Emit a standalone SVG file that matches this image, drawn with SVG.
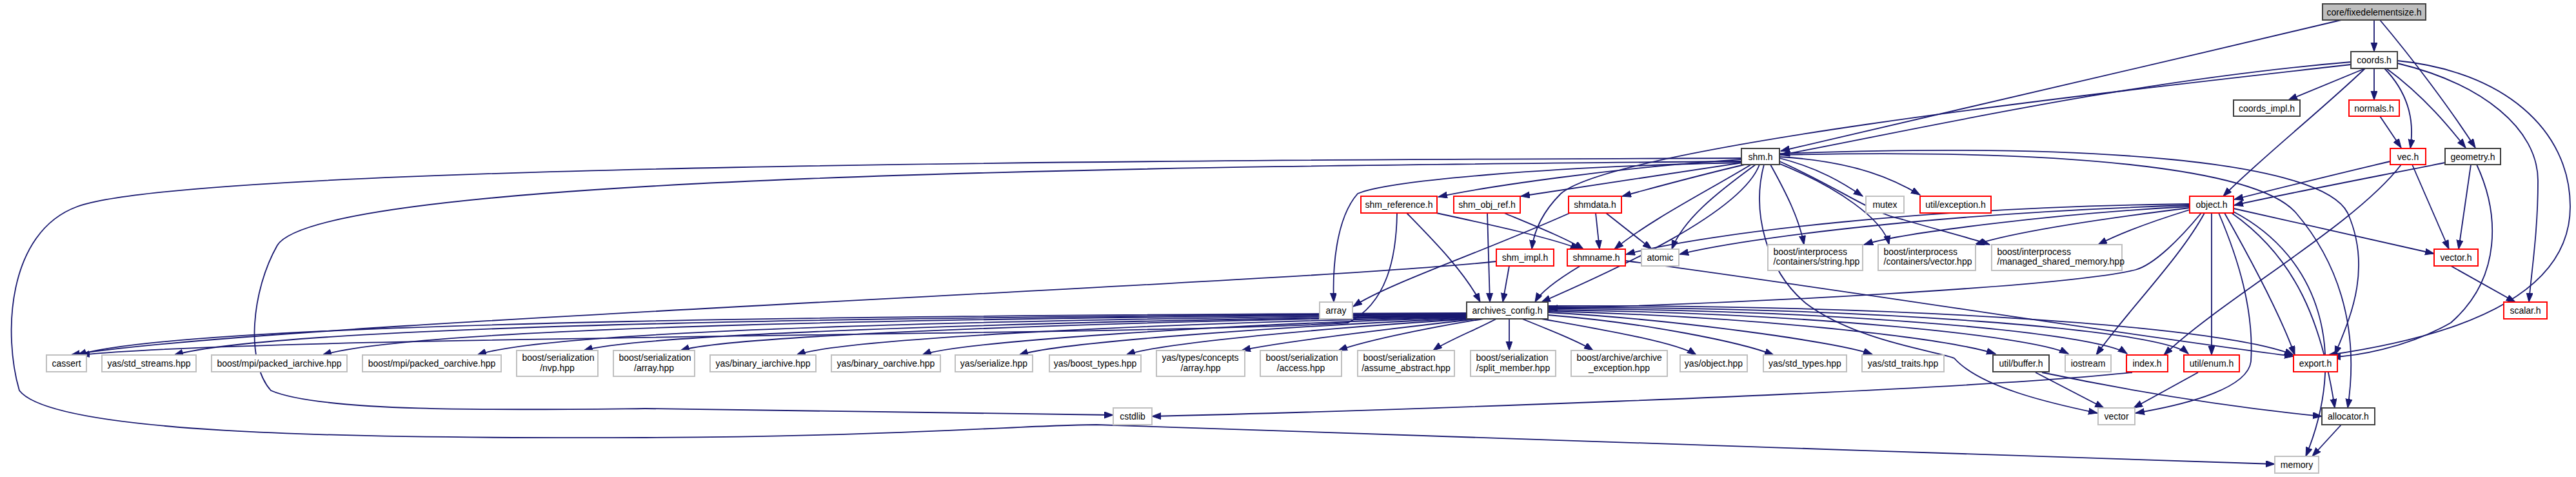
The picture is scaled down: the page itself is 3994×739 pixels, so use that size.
<svg xmlns="http://www.w3.org/2000/svg" width="3994" height="739" viewBox="0 0 3994 739">
<style>
.n rect{fill:#fff;stroke-width:2}
.b rect{stroke:#404040}
.r rect{stroke:#ff0000}
.g rect{stroke:#bfbfbf}
.root rect{fill:#bfbfbf;stroke:#404040}
text{font-family:"Liberation Sans",Arial,sans-serif;font-size:14px;fill:#000}
.c{text-anchor:middle}
#edges path{fill:none;stroke:#191970;stroke-width:1.8;marker-end:url(#a)}
</style>
<defs>
<marker id="a" markerUnits="userSpaceOnUse" markerWidth="16" markerHeight="12" refX="14" refY="5" orient="auto"><path d="M0,0 L14,5 L0,10 z" fill="#191970" stroke="#191970"/></marker>
</defs>
<rect width="3994" height="739" fill="#fff"/>
<g id="edges">
<path d="M3681,31 L3681,80"/>
<path d="M3630,31 C3300,110 2900,200 2761,234"/>
<path d="M3690,31 C3740,90 3800,170 3838,229"/>
<path d="M3645,96 C3300,125 2950,205 2761,240"/>
<path d="M3645,100 C3200,150 2500,230 2420,300 C2390,330 2378,360 2375,386"/>
<path d="M3667,106 L3548,155"/>
<path d="M3681,106 L3681,155"/>
<path d="M3697,106 C3730,140 3745,180 3737,230"/>
<path d="M3700,106 C3760,150 3800,200 3823,229"/>
<path d="M3667,106 C3600,170 3500,250 3447,304"/>
<path d="M3717,98 C3850,130 3935,200 3935,280 C3935,360 3925,420 3921,468"/>
<path d="M3717,94 C3880,110 3985,200 3985,320 C3985,480 3750,530 3610,550"/>
<path d="M3690,180 L3723,229"/>
<path d="M3706,250 C3600,275 3500,300 3464,309"/>
<path d="M3740,255 L3797,386"/>
<path d="M3723,255 C3650,350 3450,460 3355,550"/>
<path d="M3791,252 C3650,280 3520,305 3464,318"/>
<path d="M3831,255 L3812,386"/>
<path d="M3840,255 C3875,330 3880,430 3800,500 C3730,540 3650,552 3615,553"/>
<path d="M3800,412 L3900,468"/>
<path d="M2700,245 C1800,248 300,255 120,320 C10,360 5,520 30,605 C80,670 500,680 1000,678 C1400,676 1600,658 1700,658 C2000,665 2900,700 3527,719"/>
<path d="M2700,250 C1800,258 500,270 430,380 C390,450 380,560 420,605 C500,640 800,635 1000,633 C1300,637 1600,642 1726,643"/>
<path d="M2700,252 C2400,258 2150,280 2105,300 C2070,340 2066,420 2068,468"/>
<path d="M2700,247 C2500,260 2300,290 2230,305"/>
<path d="M2702,252 C2550,275 2420,295 2358,304"/>
<path d="M2705,255 C2620,275 2560,292 2515,304"/>
<path d="M2715,255 C2640,300 2560,340 2503,386"/>
<path d="M2722,255 C2660,300 2610,340 2592,386"/>
<path d="M2728,255 C2700,330 2500,420 2390,468"/>
<path d="M2745,255 C2770,300 2790,340 2797,379"/>
<path d="M2755,252 C2850,290 2920,340 2929,379"/>
<path d="M2759,250 C2850,290 2900,330 2950,340 C3000,355 3060,370 3085,379"/>
<path d="M2759,245 C2820,260 2860,285 2888,304"/>
<path d="M2759,243 C2880,250 2940,280 2977,302"/>
<path d="M2735,255 C2715,330 2740,420 2800,470 C2880,530 3010,545 3030,555 C3070,600 3180,625 3252,640"/>
<path d="M2759,240 C3200,230 3500,260 3560,330 C3620,400 3660,500 3640,632"/>
<path d="M2759,238 C3250,220 3600,250 3640,330 C3680,420 3640,500 3620,550"/>
<path d="M2166,330 C2165,400 2150,470 2090,500 C1800,520 400,520 125,550"/>
<path d="M2181,330 C2220,370 2270,420 2295,468"/>
<path d="M2227,330 C2320,350 2410,370 2449,386"/>
<path d="M2306,330 L2310,468"/>
<path d="M2332,330 C2380,350 2430,370 2455,386"/>
<path d="M2474,330 L2480,386"/>
<path d="M2490,330 L2561,386"/>
<path d="M2434,330 C2300,390 2150,440 2098,475"/>
<path d="M2340,412 L2330,468"/>
<path d="M2320,405 C2000,440 400,500 110,550"/>
<path d="M2450,412 C2420,430 2390,450 2380,468"/>
<path d="M2520,404 C2800,440 3300,520 3556,552"/>
<path d="M3395,316 C3000,320 2650,360 2521,394"/>
<path d="M3395,318 C3000,330 2700,370 2604,394"/>
<path d="M3395,320 C3200,330 2950,360 2890,379"/>
<path d="M3395,322 C3250,340 3120,360 3062,379"/>
<path d="M3395,325 C3330,345 3280,365 3253,379"/>
<path d="M3413,330 C3380,370 3340,410 3311,418 C3200,445 2700,470 2401,478"/>
<path d="M3418,330 C3380,400 3300,480 3250,550"/>
<path d="M3429,330 L3429,550"/>
<path d="M3449,330 C3500,420 3540,500 3558,550"/>
<path d="M3463,323 L3774,393"/>
<path d="M3440,330 C3470,400 3495,480 3490,560 C3485,600 3400,625 3311,640"/>
<path d="M3460,330 C3560,400 3600,500 3620,632"/>
<path d="M3463,328 C3600,400 3640,550 3575,707"/>
<path d="M2274,485 C1500,488 300,495 120,550"/>
<path d="M2274,486 C1500,490 450,500 270,550"/>
<path d="M2274,487 C1500,492 650,505 500,550"/>
<path d="M2275,488 C1600,494 850,510 740,550"/>
<path d="M2276,489 C1700,496 1000,515 905,543"/>
<path d="M2277,490 C1700,498 1130,520 1055,543"/>
<path d="M2278,491 C1800,500 1300,525 1235,550"/>
<path d="M2279,492 C1900,502 1480,530 1430,550"/>
<path d="M2280,493 C2000,505 1640,530 1580,550"/>
<path d="M2282,494 C2100,505 1800,530 1746,550"/>
<path d="M2290,494 C2150,510 1980,530 1925,543"/>
<path d="M2300,494 C2200,510 2110,530 2075,543"/>
<path d="M2320,494 C2290,510 2240,530 2222,543"/>
<path d="M2340,494 L2340,543"/>
<path d="M2360,494 C2400,510 2450,530 2470,543"/>
<path d="M2390,494 C2480,510 2600,530 2630,550"/>
<path d="M2400,488 C2550,500 2700,530 2750,550"/>
<path d="M2400,484 C2600,495 2850,530 2903,549"/>
<path d="M2400,482 C2700,490 3000,520 3094,548"/>
<path d="M2400,480 C2800,485 3150,520 3207,548"/>
<path d="M2400,478 C2850,480 3250,515 3298,548"/>
<path d="M2400,476 C2900,476 3350,510 3393,548"/>
<path d="M2400,474 C2950,472 3450,505 3556,550"/>
<path d="M3156,577 L3262,632"/>
<path d="M3166,577 C3300,605 3450,630 3600,645"/>
<path d="M3306,577 C3000,610 2000,640 1786,645"/>
<path d="M3408,577 L3308,632"/>
<path d="M3630,658 L3585,707"/>
</g>
<g id="n_fixed" class="n root"><rect x="3601" y="6" width="160" height="25"/><text class="c" x="3681" y="24">core/fixedelementsize.h</text></g>
<g id="n_coords" class="n b"><rect x="3645" y="80" width="72" height="26"/><text class="c" x="3681" y="98">coords.h</text></g>
<g id="n_coords_impl" class="n b"><rect x="3463" y="155" width="103" height="25"/><text class="c" x="3514.5" y="173">coords_impl.h</text></g>
<g id="n_normals" class="n r"><rect x="3642" y="155" width="78" height="25"/><text class="c" x="3681" y="173">normals.h</text></g>
<g id="n_vec" class="n r"><rect x="3706" y="230" width="55" height="25"/><text class="c" x="3733.5" y="248">vec.h</text></g>
<g id="n_geometry" class="n b"><rect x="3791" y="230" width="86" height="25"/><text class="c" x="3834" y="248">geometry.h</text></g>
<g id="n_shm" class="n b"><rect x="2700" y="230" width="59" height="25"/><text class="c" x="2729.5" y="248">shm.h</text></g>
<g id="n_object" class="n r"><rect x="3395" y="304" width="68" height="26"/><text class="c" x="3429" y="322">object.h</text></g>
<g id="n_shm_reference" class="n r"><rect x="2110" y="304" width="118" height="26"/><text class="c" x="2169" y="322">shm_reference.h</text></g>
<g id="n_shm_obj_ref" class="n r"><rect x="2254" y="304" width="103" height="26"/><text class="c" x="2305.5" y="322">shm_obj_ref.h</text></g>
<g id="n_shmdata" class="n r"><rect x="2432" y="304" width="82" height="26"/><text class="c" x="2473" y="322">shmdata.h</text></g>
<g id="n_mutex" class="n g"><rect x="2893" y="304" width="59" height="26"/><text class="c" x="2922.5" y="322">mutex</text></g>
<g id="n_util_exception" class="n r"><rect x="2977" y="304" width="110" height="26"/><text class="c" x="3032" y="322">util/exception.h</text></g>
<g id="n_shm_impl" class="n r"><rect x="2320" y="386" width="89" height="26"/><text class="c" x="2364.5" y="404">shm_impl.h</text></g>
<g id="n_shmname" class="n r"><rect x="2430" y="386" width="90" height="26"/><text class="c" x="2475" y="404">shmname.h</text></g>
<g id="n_atomic" class="n g"><rect x="2545" y="386" width="58" height="26"/><text class="c" x="2574" y="404">atomic</text></g>
<g id="n_bi_string" class="n g"><rect x="2741" y="379" width="147" height="40"/><text x="2749.5" y="395">boost/interprocess</text><text x="2749.5" y="410">/containers/string.hpp</text></g>
<g id="n_bi_vector" class="n g"><rect x="2912" y="379" width="151" height="40"/><text x="2920.5" y="395">boost/interprocess</text><text x="2920.5" y="410">/containers/vector.hpp</text></g>
<g id="n_bi_managed" class="n g"><rect x="3088" y="379" width="202" height="40"/><text x="3096.5" y="395">boost/interprocess</text><text x="3096.5" y="410">/managed_shared_memory.hpp</text></g>
<g id="n_vector_h" class="n r"><rect x="3774" y="386" width="68" height="26"/><text class="c" x="3808" y="404">vector.h</text></g>
<g id="n_array" class="n g"><rect x="2046" y="468" width="51" height="26"/><text class="c" x="2071.5" y="486">array</text></g>
<g id="n_archives_config" class="n b"><rect x="2274" y="468" width="126" height="26"/><text class="c" x="2337" y="486">archives_config.h</text></g>
<g id="n_scalar" class="n r"><rect x="3882" y="468" width="67" height="26"/><text class="c" x="3915.5" y="486">scalar.h</text></g>
<g id="n_cassert" class="n g"><rect x="72" y="550" width="62" height="26"/><text class="c" x="103" y="568">cassert</text></g>
<g id="n_std_streams" class="n g"><rect x="158" y="550" width="146" height="26"/><text class="c" x="231" y="568">yas/std_streams.hpp</text></g>
<g id="n_packed_i" class="n g"><rect x="328" y="550" width="210" height="26"/><text class="c" x="433" y="568">boost/mpi/packed_iarchive.hpp</text></g>
<g id="n_packed_o" class="n g"><rect x="562" y="550" width="215" height="26"/><text class="c" x="669.5" y="568">boost/mpi/packed_oarchive.hpp</text></g>
<g id="n_nvp" class="n g"><rect x="801" y="543" width="126" height="40"/><text x="809.5" y="559">boost/serialization</text><text class="c" x="864" y="575">/nvp.hpp</text></g>
<g id="n_ser_array" class="n g"><rect x="951" y="543" width="126" height="40"/><text x="959.5" y="559">boost/serialization</text><text class="c" x="1014" y="575">/array.hpp</text></g>
<g id="n_bin_i" class="n g"><rect x="1101" y="550" width="164" height="26"/><text class="c" x="1183" y="568">yas/binary_iarchive.hpp</text></g>
<g id="n_bin_o" class="n g"><rect x="1289" y="550" width="169" height="26"/><text class="c" x="1373.5" y="568">yas/binary_oarchive.hpp</text></g>
<g id="n_serialize" class="n g"><rect x="1481" y="550" width="120" height="26"/><text class="c" x="1541" y="568">yas/serialize.hpp</text></g>
<g id="n_boost_types" class="n g"><rect x="1627" y="550" width="142" height="26"/><text class="c" x="1698" y="568">yas/boost_types.hpp</text></g>
<g id="n_concepts" class="n g"><rect x="1793" y="543" width="137" height="40"/><text x="1801.5" y="559">yas/types/concepts</text><text class="c" x="1861.5" y="575">/array.hpp</text></g>
<g id="n_access" class="n g"><rect x="1954" y="543" width="126" height="40"/><text x="1962.5" y="559">boost/serialization</text><text class="c" x="2017" y="575">/access.hpp</text></g>
<g id="n_assume" class="n g"><rect x="2105" y="543" width="150" height="40"/><text x="2113.5" y="559">boost/serialization</text><text class="c" x="2180" y="575">/assume_abstract.hpp</text></g>
<g id="n_split" class="n g"><rect x="2280" y="543" width="132" height="40"/><text x="2288.5" y="559">boost/serialization</text><text class="c" x="2346" y="575">/split_member.hpp</text></g>
<g id="n_archive_exc" class="n g"><rect x="2436" y="543" width="149" height="40"/><text x="2444.5" y="559">boost/archive/archive</text><text class="c" x="2510.5" y="575">_exception.hpp</text></g>
<g id="n_yas_object" class="n g"><rect x="2605" y="550" width="104" height="26"/><text class="c" x="2657" y="568">yas/object.hpp</text></g>
<g id="n_std_types" class="n g"><rect x="2734" y="550" width="129" height="26"/><text class="c" x="2798.5" y="568">yas/std_types.hpp</text></g>
<g id="n_std_traits" class="n g"><rect x="2887" y="550" width="127" height="26"/><text class="c" x="2950.5" y="568">yas/std_traits.hpp</text></g>
<g id="n_util_buffer" class="n b"><rect x="3090" y="550" width="87" height="26"/><text class="c" x="3133.5" y="568">util/buffer.h</text></g>
<g id="n_iostream" class="n g"><rect x="3202" y="550" width="71" height="26"/><text class="c" x="3237.5" y="568">iostream</text></g>
<g id="n_index" class="n r"><rect x="3297" y="550" width="64" height="26"/><text class="c" x="3329" y="568">index.h</text></g>
<g id="n_util_enum" class="n r"><rect x="3386" y="550" width="86" height="26"/><text class="c" x="3429" y="568">util/enum.h</text></g>
<g id="n_export" class="n r"><rect x="3556" y="550" width="68" height="26"/><text class="c" x="3590" y="568">export.h</text></g>
<g id="n_cstdlib" class="n g"><rect x="1726" y="632" width="60" height="26"/><text class="c" x="1756" y="650">cstdlib</text></g>
<g id="n_vector" class="n g"><rect x="3253" y="632" width="57" height="26"/><text class="c" x="3281.5" y="650">vector</text></g>
<g id="n_allocator" class="n b"><rect x="3600" y="632" width="82" height="26"/><text class="c" x="3641" y="650">allocator.h</text></g>
<g id="n_memory" class="n g"><rect x="3527" y="707" width="68" height="26"/><text class="c" x="3561" y="725">memory</text></g>
</svg>
